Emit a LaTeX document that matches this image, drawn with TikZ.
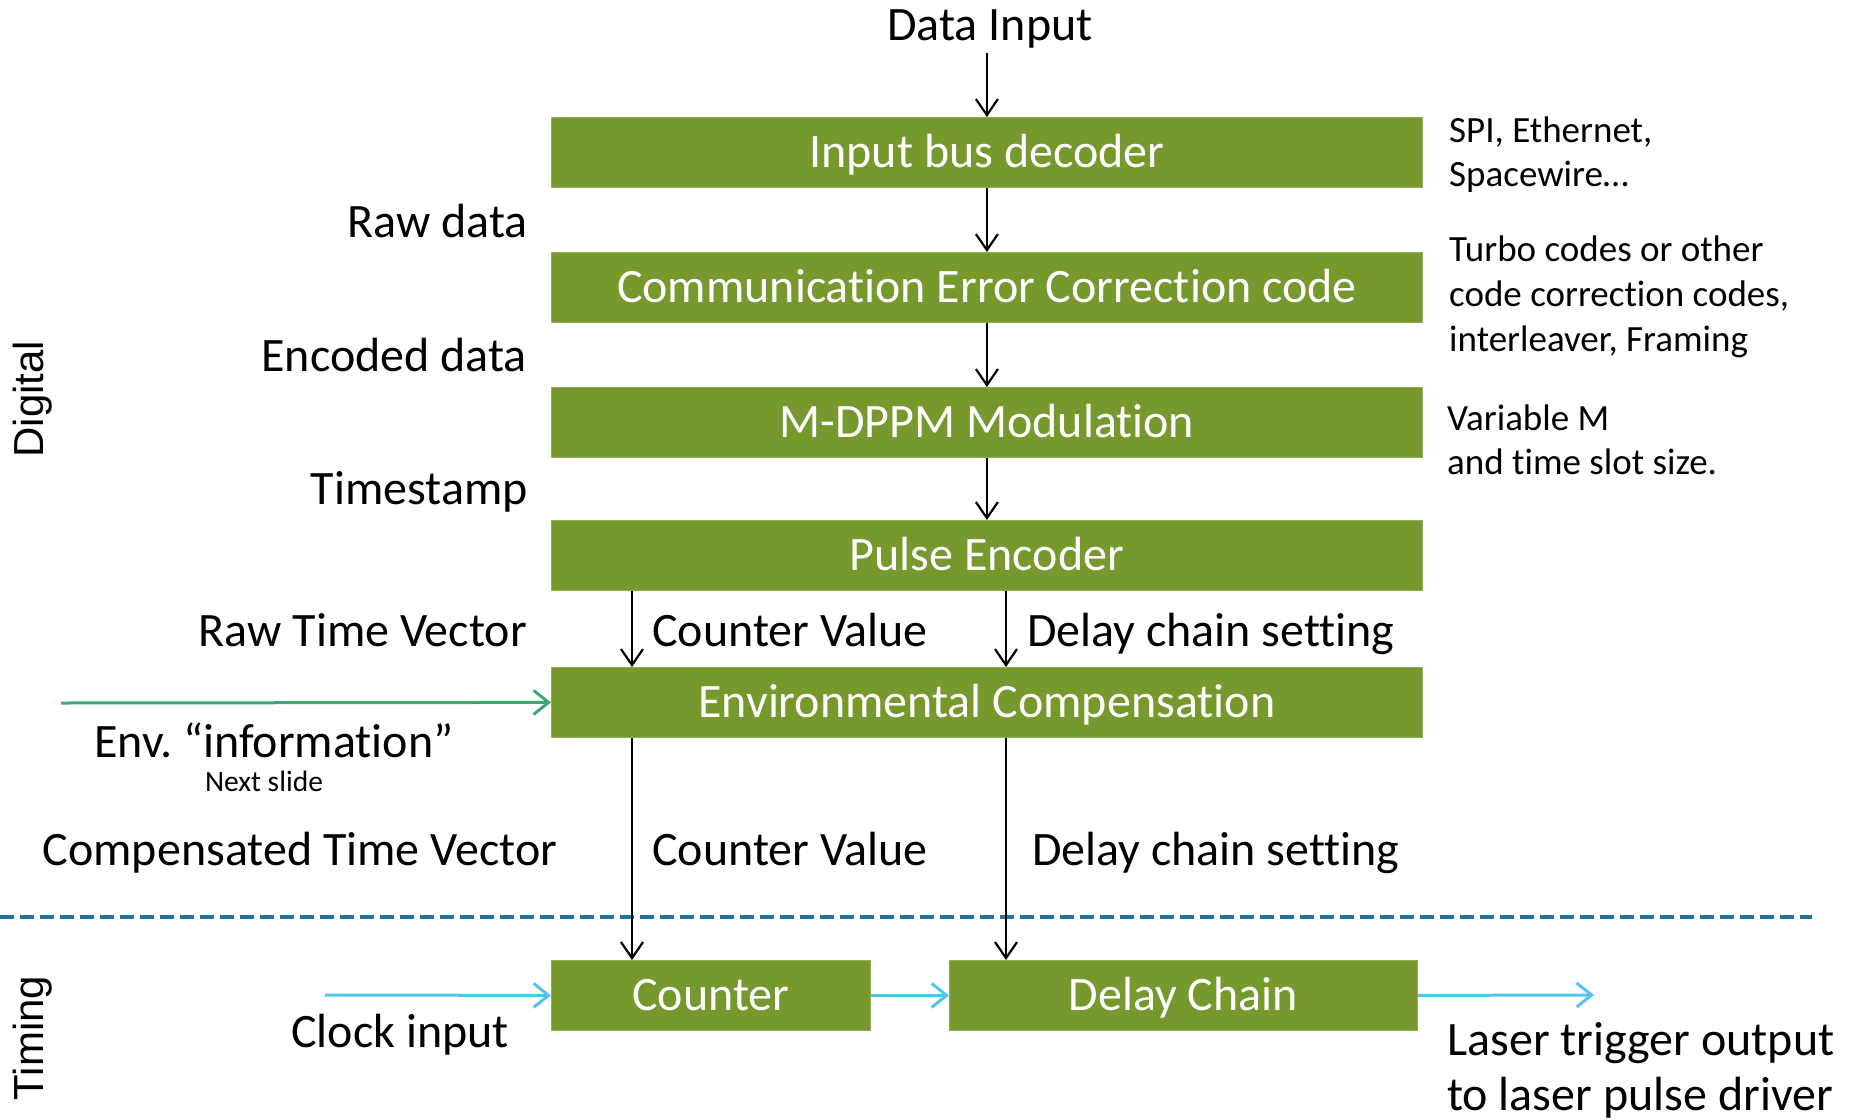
\documentclass[tikz,border=0pt]{standalone}
\usepackage{fontspec}
\setmainfont[Ligatures=NoCommon]{Carlito}
\newfontfamily\arialfont{Liberation Sans}
\usetikzlibrary{arrows.meta}
\definecolor{boxgreen}{HTML}{76982C}
\definecolor{envgreen}{HTML}{3BAA72}
\definecolor{clkblue}{HTML}{55C2F2}
\definecolor{sepblue}{HTML}{1F74A2}
\begin{document}
\frenchspacing
\begin{tikzpicture}[x=1pt,y=-1pt,
  blk/.style={fill=boxgreen, draw=boxgreen!80!white, line width=0.8pt, text=white,
    inner sep=0pt, text height=30.9pt, text depth=0pt,
    font=\fontsize{48}{57}\selectfont, anchor=north west, minimum height=70pt},
  lbl/.style={inner sep=0pt, text height=30.9pt, text depth=0pt,
    font=\fontsize{48}{57}\selectfont},
  note/.style={inner sep=0pt, text height=23.8pt, text depth=0pt,
    font=\fontsize{37}{44}\selectfont, anchor=west},
  side/.style={inner sep=0pt, font=\arialfont\fontsize{42}{50}\selectfont, rotate=90},
  arr/.style={line width=2.2pt, -{Straight Barb[length=16pt,width=22pt,line width=2.2pt]}},
  carr/.style={line width=3pt, -{Straight Barb[length=15pt,width=24pt,line width=3pt]}}
]
\useasboundingbox (0,0) rectangle (1849,1119);

% blocks
\node[blk, minimum width=871pt] (ibd) at (551,117) {Input bus decoder};
\node[blk, minimum width=871pt] (ecc) at (551,252) {Communication Error Correction code};
\node[blk, minimum width=871pt] (mod) at (551,387) {M-DPPM Modulation};
\node[blk, minimum width=871pt] (pe) at (551,520) {Pulse Encoder};
\node[blk, minimum width=871pt] (env) at (551,667) {Environmental Compensation};
\node[blk, minimum width=319pt] (cnt) at (551,960) {Counter};
\node[blk, minimum width=468pt] (dc) at (949,960) {Delay Chain};

% coordinates
\coordinate (din) at (ibd.north |- 0,53);
\coordinate (xL) at (632,0);
\coordinate (xR) at (1006,0);
\coordinate (envin) at (61,703);
\coordinate (clkin) at (325,995);
\coordinate (laserout) at (1594,995);
\coordinate (sepL) at (0,917);
\coordinate (sepR) at (1812,917);

% separator
\draw[sepblue, line width=3.5pt, dash pattern=on 14pt off 6pt] (sepL) -- (sepR);

% labels
\node[lbl] (tdin) at (990,25) {Data Input};
\node[lbl, anchor=east] (traw) at (528,222) {Raw data};
\node[lbl, anchor=east] (tenc) at (527,356) {Encoded data};
\node[lbl, anchor=east] (tts) at (528,489) {Timestamp};
\node[lbl, anchor=east] (trtv) at (527,631) {Raw Time Vector};
\node[lbl, anchor=west] (tcv1) at (652,631) {Counter Value};
\node[lbl, anchor=west] (tdcs1) at (1027,631) {Delay chain setting};
\node[lbl] (tenv) at (274,742) {Env. “information”};
\node[inner sep=0pt, text height=19pt, text depth=0pt, font=\fontsize{29.5}{35}\selectfont] (tnext) at (264,782) {Next slide};
\node[lbl] (tctv) at (300,850) {Compensated Time Vector};
\node[lbl, anchor=west] (tcv2) at (652,850) {Counter Value};
\node[lbl, anchor=west] (tdcs2) at (1032,850) {Delay chain setting};
\node[lbl] (tclk) at (400,1032) {Clock input};
\node[lbl, anchor=west] (tlas1) at (1447,1040) {Laser trigger output};
\node[lbl, anchor=west] (tlas2) at (1447,1095) {to laser pulse driver};

\node[note] (n1a) at (1449,131) {SPI, Ethernet,};
\node[note] (n1b) at (1449,175) {Spacewire…};
\node[note] (n2a) at (1449,250) {Turbo codes or other};
\node[note] (n2b) at (1449,295) {code correction codes,};
\node[note] (n2c) at (1449,340) {interleaver, Framing};
\node[note] (n3a) at (1447,419) {Variable M};
\node[note] (n3b) at (1447,463) {and time slot size.};

\node[side] (tdig) at (33,399) {Digital};
\node[side] (ttim) at (33,1038) {Timing};

% connectors
\draw[arr] (din) -- (ibd.north);
\draw[arr] (ibd.south) -- (ecc.north);
\draw[arr] (ecc.south) -- (mod.north);
\draw[arr] (mod.south) -- (pe.north);
\draw[arr] (pe.south -| xL) -- (env.north -| xL);
\draw[arr] (pe.south -| xR) -- (env.north -| xR);
\draw[arr] (env.south -| xL) -- (cnt.north -| xL);
\draw[arr] (env.south -| xR) -- (dc.north -| xR);
\draw[carr, envgreen] (envin) -- (env.west);
\draw[carr, clkblue] (clkin) -- (cnt.west);
\draw[carr, clkblue] (cnt.east) -- (dc.west);
\draw[carr, clkblue] (dc.east) -- (laserout);
\end{tikzpicture}
\end{document}
